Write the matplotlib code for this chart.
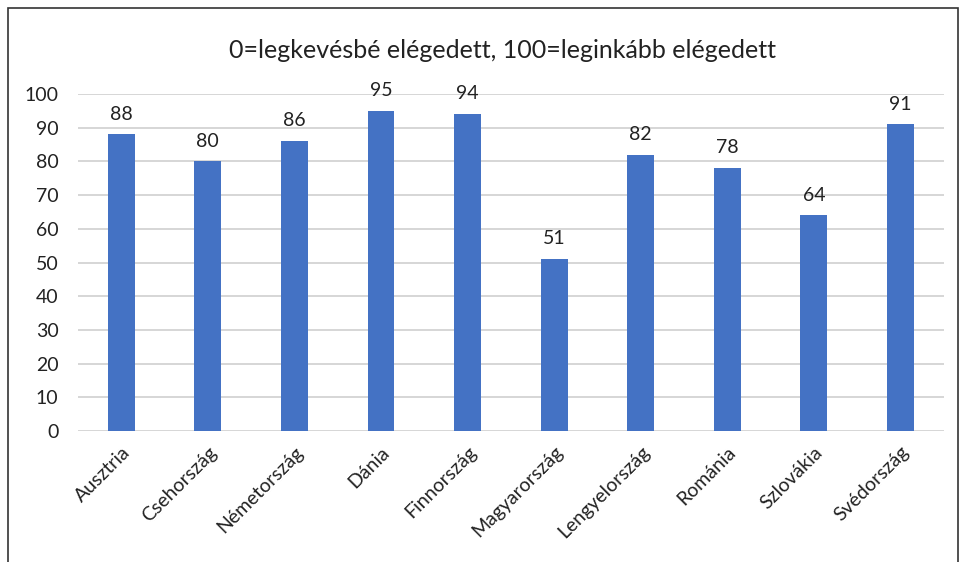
import matplotlib.pyplot as plt
from matplotlib.patches import Rectangle

# adatok
orszagok = ['Ausztria', 'Csehország', 'Németország', 'Dánia', 'Finnország',
            'Magyarország', 'Lengyelország', 'Románia', 'Szlovákia', 'Svédország']
ertekek = [88, 80, 86, 95, 94, 51, 82, 78, 64, 91]
yticks = [0, 10, 20, 30, 40, 50, 60, 70, 80, 90, 100]

plt.rcParams['font.family'] = ['Lato', 'DejaVu Sans']

fig = plt.figure(figsize=(9.66, 5.62), dpi=100)
ax = fig.add_axes([0.0807, 0.2331, 0.8963, 0.5996])

x = range(len(orszagok))
bars = ax.bar(x, ertekek, width=0.31, color='#4472C4', zorder=3)
for i, v in zip(x, ertekek):
    ax.text(i, v + 3.5, str(v), ha='center', va='bottom', fontsize=14, color='#222222')

ax.set_xlim(-0.5, len(orszagok) - 0.5)
ax.set_ylim(0, 100)
ax.set_yticks(yticks)
ax.set_yticklabels([str(t) for t in yticks], fontsize=14, color='#222222')
ax.set_xticks(list(x))
ax.set_xticklabels(orszagok, rotation=45, ha='right', rotation_mode='anchor',
                   fontsize=14, color='#222222')
ax.tick_params(axis='y', length=0, pad=14)
ax.tick_params(axis='x', length=0, pad=9)
ax.yaxis.grid(True, color='#d0d0d0', linewidth=1.2, zorder=0)
for s in ax.spines.values():
    s.set_visible(False)

fig.text(0.52, 0.91, '0=legkevésbé elégedett, 100=leginkább elégedett',
         ha='center', va='center', fontsize=18, color='#222222')

# keret
fig.add_artist(Rectangle((8 / 966, -0.1), 950 / 966, 1.1 - 8 / 562,
                         transform=fig.transFigure, fill=False,
                         edgecolor='#333333', linewidth=1.2))

plt.savefig('out.png', dpi=100)
